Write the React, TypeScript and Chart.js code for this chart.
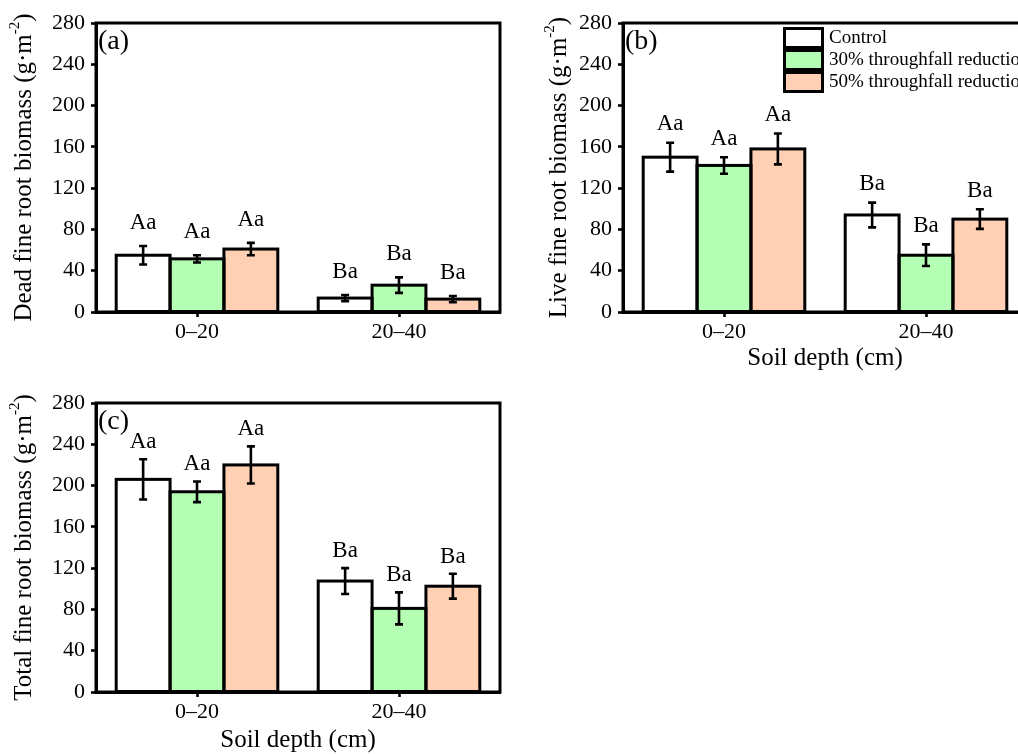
import React, { useEffect, useRef } from 'react';
import { Chart, registerables } from 'chart.js';
Chart.register(...registerables);

const FONT = 'Liberation Serif';

// ---- data ----
const categories = ['0–20', '20–40'];
const seriesNames = ['Control', '30% throughfall reduction', '50% throughfall reduction'];
const seriesColors = ['#FFFFFF', '#B4FFB4', '#FFD0B4'];
const yTicks = [0, 40, 80, 120, 160, 200, 240, 280];
const xTitle = 'Soil depth (cm)';

// (a) dead fine root biomass
const deadControl = [55, 13.5];
const deadControlErr = [9, 3];
const dead30 = [51.5, 26];
const dead30Err = [3.5, 7.5];
const dead50 = [61, 12.5];
const dead50Err = [6, 3];
const deadLettersControl = ['Aa', 'Ba'];
const deadLetters30 = ['Aa', 'Ba'];
const deadLetters50 = ['Aa', 'Ba'];

// (b) live fine root biomass
const liveControl = [150, 94];
const liveControlErr = [14, 12];
const live30 = [142, 55];
const live30Err = [8, 10.5];
const live50 = [158, 90];
const live50Err = [15, 9.5];
const liveLettersControl = ['Aa', 'Ba'];
const liveLetters30 = ['Aa', 'Ba'];
const liveLetters50 = ['Aa', 'Ba'];

// (c) total fine root biomass
const totalControl = [206, 107.5];
const totalControlErr = [19.5, 12.5];
const total30 = [194, 81];
const total30Err = [10, 15.5];
const total50 = [220, 102.5];
const total50Err = [18, 12];
const totalLettersControl = ['Aa', 'Ba'];
const totalLetters30 = ['Aa', 'Ba'];
const totalLetters50 = ['Aa', 'Ba'];

type PanelCfg = {
  tag: string;
  yTitle: string;
  values: number[][];
  errors: number[][];
  letters: string[][];
  showXTitle: boolean;
  xTitlePad: number;
  yTitleX: number;
  letterGap: number;
  showLegend: boolean;
  left: number;
  top: number;
};

const W = 540;
const H = 400;

function makeDecor(cfg: PanelCfg) {
  return {
    id: 'decor' + cfg.tag,
    afterDatasetsDraw(chart: any) {
      const ctx = chart.ctx as CanvasRenderingContext2D;
      const yScale = chart.scales.y;
      ctx.save();
      ctx.strokeStyle = '#000';
      // outlines
      ctx.lineWidth = 3;
      chart.data.datasets.forEach((ds: any, di: number) => {
        const meta = chart.getDatasetMeta(di);
        meta.data.forEach((bar: any) => {
          const p = bar.getProps(['x', 'y', 'base', 'width'], true);
          ctx.strokeRect(p.x - p.width / 2, p.y, p.width, p.base - p.y);
        });
      });
      // error bars
      ctx.lineWidth = 2.6;
      chart.data.datasets.forEach((ds: any, di: number) => {
        const meta = chart.getDatasetMeta(di);
        meta.data.forEach((bar: any, i: number) => {
          const v = ds.data[i];
          const e = ds.errors[i];
          const x = bar.getProps(['x'], true).x;
          const yT = yScale.getPixelForValue(v + e);
          const yB = yScale.getPixelForValue(v - e);
          ctx.beginPath();
          ctx.moveTo(x, yT);
          ctx.lineTo(x, yB);
          ctx.moveTo(x - 4, yT);
          ctx.lineTo(x + 4, yT);
          ctx.moveTo(x - 4, yB);
          ctx.lineTo(x + 4, yB);
          ctx.stroke();
          // letters
          ctx.fillStyle = '#000';
          ctx.font = `23px "${FONT}"`;
          ctx.textAlign = 'center';
          ctx.textBaseline = 'alphabetic';
          ctx.fillText(ds.letters[i], x, yT - cfg.letterGap);
        });
      });
      ctx.restore();
    },
    afterDraw(chart: any) {
      const ctx = chart.ctx as CanvasRenderingContext2D;
      const { left, right, top, bottom } = chart.chartArea;
      ctx.save();
      ctx.strokeStyle = '#000';
      ctx.lineWidth = 3;
      ctx.strokeRect(left, top, right - left, bottom - top);
      // panel tag
      ctx.fillStyle = '#000';
      ctx.font = `28px "${FONT}"`;
      ctx.textAlign = 'left';
      ctx.textBaseline = 'alphabetic';
      ctx.fillText(`(${cfg.tag})`, left + 2, top + 26);
      // y title with superscript
      const main = `${cfg.yTitle} (g·m`;
      const sup = '-2';
      const post = ')';
      ctx.font = `25px "${FONT}"`;
      const w1 = ctx.measureText(main).width;
      const w3 = ctx.measureText(post).width;
      ctx.font = `15px "${FONT}"`;
      const w2 = ctx.measureText(sup).width;
      const total = w1 + w2 + w3;
      ctx.translate(cfg.yTitleX, (top + bottom) / 2);
      ctx.rotate(-Math.PI / 2);
      ctx.textBaseline = 'middle';
      ctx.font = `25px "${FONT}"`;
      ctx.fillText(main, -total / 2, 0);
      ctx.font = `15px "${FONT}"`;
      ctx.fillText(sup, -total / 2 + w1, -9);
      ctx.font = `25px "${FONT}"`;
      ctx.fillText(post, -total / 2 + w1 + w2, 0);
      ctx.restore();
      // legend
      if (cfg.showLegend) {
        ctx.save();
        const lx = left + 160;
        let ly = top + 4;
        chart.data.datasets.forEach((ds: any) => {
          ctx.fillStyle = ds.backgroundColor;
          ctx.fillRect(lx + 1.5, ly + 1.5, 38, 19);
          ctx.strokeStyle = '#000';
          ctx.lineWidth = 3;
          ctx.strokeRect(lx + 1.5, ly + 1.5, 38, 19);
          ctx.fillStyle = '#000';
          ctx.font = `19px "${FONT}"`;
          ctx.textAlign = 'left';
          ctx.textBaseline = 'middle';
          ctx.fillText(ds.label, lx + 46, ly + 11);
          ly += 22;
        });
        ctx.restore();
      }
    },
  };
}

function Panel({ cfg }: { cfg: PanelCfg }) {
  const ref = useRef<HTMLCanvasElement>(null);
  useEffect(() => {
    if (!ref.current) return;
    const datasets = seriesNames.map((name, si) => ({
      label: name,
      data: cfg.values[si],
      errors: cfg.errors[si],
      letters: cfg.letters[si],
      backgroundColor: seriesColors[si],
      borderWidth: 0,
      barPercentage: 1,
      categoryPercentage: 0.8,
    }));
    const chart = new Chart(ref.current, {
      type: 'bar',
      data: { labels: categories, datasets: datasets as any },
      options: {
        responsive: false,
        animation: false,
        devicePixelRatio: 1,
        layout: { padding: { top: 23, right: 40, left: 0, bottom: 0 } },
        plugins: { legend: { display: false }, tooltip: { enabled: false } },
        scales: {
          x: {
            grid: {
              display: true,
              drawOnChartArea: false,
              drawTicks: true,
              tickLength: 5,
              tickWidth: 2.6,
              tickColor: '#000',
              offset: false,
            },
            border: { display: true, color: '#000', width: 3 },
            ticks: { color: '#000', font: { family: FONT, size: 22 }, padding: 2 },
            title: {
              display: cfg.showXTitle,
              text: xTitle,
              color: '#000',
              font: { family: FONT, size: 25 },
              padding: { top: 0, bottom: cfg.xTitlePad },
            },
            afterFit: (s: any) => {
              s.height = H - 312;
            },
          },
          y: {
            min: yTicks[0],
            max: yTicks[yTicks.length - 1],
            afterBuildTicks: (s: any) => {
              s.ticks = yTicks.map((v) => ({ value: v }));
            },
            grid: {
              display: true,
              drawOnChartArea: false,
              drawTicks: true,
              tickLength: 5,
              tickWidth: 2.6,
              tickColor: '#000',
            },
            border: { display: true, color: '#000', width: 3 },
            ticks: { color: '#000', font: { family: FONT, size: 22 }, padding: 6 },
            afterFit: (s: any) => {
              s.width = 96;
            },
          },
        },
      },
      plugins: [makeDecor(cfg)],
    });
    return () => chart.destroy();
  }, [cfg]);
  return (
    <canvas
      ref={ref}
      width={W}
      height={H}
      style={{ position: 'absolute', left: cfg.left, top: cfg.top, width: W, height: H }}
    />
  );
}

const panelA: PanelCfg = {
  tag: 'a',
  yTitle: 'Dead fine root biomass',
  values: [deadControl, dead30, dead50],
  errors: [deadControlErr, dead30Err, dead50Err],
  letters: [deadLettersControl, deadLetters30, deadLetters50],
  showXTitle: false,
  xTitlePad: 0,
  yTitleX: 24,
  letterGap: 17,
  showLegend: false,
  left: 0,
  top: 0,
};
const panelB: PanelCfg = {
  tag: 'b',
  yTitle: 'Live fine root biomass',
  values: [liveControl, live30, live50],
  errors: [liveControlErr, live30Err, live50Err],
  letters: [liveLettersControl, liveLetters30, liveLetters50],
  showXTitle: true,
  xTitlePad: 27,
  yTitleX: 32,
  letterGap: 12.5,
  showLegend: true,
  left: 527,
  top: 0,
};
const panelC: PanelCfg = {
  tag: 'c',
  yTitle: 'Total fine root biomass',
  values: [totalControl, total30, total50],
  errors: [totalControlErr, total30Err, total50Err],
  letters: [totalLettersControl, totalLetters30, totalLetters50],
  showXTitle: true,
  xTitlePad: 25,
  yTitleX: 24,
  letterGap: 11,
  showLegend: false,
  left: 0,
  top: 380,
};

export default function App() {
  return (
    <div
      style={{
        position: 'fixed',
        left: 0,
        top: 0,
        width: 1018,
        height: 754,
        overflow: 'hidden',
        background: '#fff',
      }}
    >
      <Panel cfg={panelA} />
      <Panel cfg={panelB} />
      <Panel cfg={panelC} />
    </div>
  );
}
